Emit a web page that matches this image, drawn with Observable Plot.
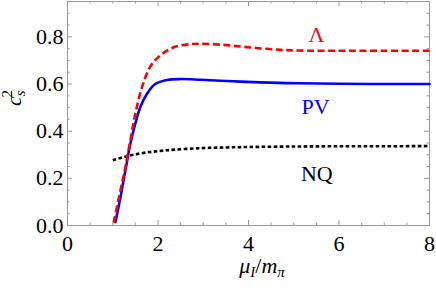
<!DOCTYPE html>
<html>
<head>
<meta charset="utf-8">
<script src="https://cdn.jsdelivr.net/npm/d3@7"></script>
<script src="https://cdn.jsdelivr.net/npm/@observablehq/plot@0.6"></script>
<style>
  html, body { margin: 0; padding: 0; background: #fff; }
  svg text { font-family: "Liberation Serif", "Times New Roman", serif !important; }
</style>
</head>
<body>
<div id="chart"></div>
<script>
// ---- data ----
const lambdaX = [1.02, 1.17, 1.28, 1.39, 1.50, 1.65, 1.83, 2.06, 2.35, 2.72, 2.94, 3.38, 3.82, 4.27, 4.71, 5.1, 6.0, 7.0, 8.0];
const lambdaY = [0.012, 0.149, 0.248, 0.362, 0.475, 0.589, 0.674, 0.723, 0.756, 0.769, 0.771, 0.767, 0.759, 0.751, 0.745, 0.742, 0.741, 0.741, 0.741];

const pvX = [1.06, 1.17, 1.28, 1.39, 1.50, 1.61, 1.76, 1.94, 2.20, 2.50, 2.94, 3.38, 3.82, 4.27, 5.1, 6.0, 7.0, 8.0];
const pvY = [0.015, 0.12, 0.234, 0.348, 0.433, 0.503, 0.560, 0.600, 0.617, 0.621, 0.618, 0.614, 0.610, 0.607, 0.603, 0.601, 0.600, 0.600];

const nqX = [1.0, 1.32, 1.69, 2.2, 2.94, 3.5, 4.0, 5.0, 6.0, 7.0, 8.0];
const nqY = [0.277, 0.294, 0.308, 0.319, 0.328, 0.331, 0.333, 0.335, 0.336, 0.336, 0.337];

const curveLabels = ["Λ", "PV", "NQ"];
const curveLabelX = [5.50, 5.48, 5.51];
const curveLabelY = [0.81, 0.503, 0.22];
const curveColors = ["#ff0000", "#0000ff", "#000000"];

const xMajor = [0, 2, 4, 6, 8];
const xMinor = [0.5, 1, 1.5, 2.5, 3, 3.5, 4.5, 5, 5.5, 6.5, 7, 7.5];
const yMajor = [0, 0.2, 0.4, 0.6, 0.8];
const yMinor = [0.05, 0.1, 0.15, 0.25, 0.3, 0.35, 0.45, 0.5, 0.55, 0.65, 0.7, 0.75, 0.85, 0.9];

// ---- layout ----
const W = 436, H = 290;
const mL = 67, mR = 7, mT = 1, mB = 65;
const pw = W - mL - mR, ph = H - mT - mB;
const major = 5, minor = 2.5;
const frameColor = "#999999";
const font = "Liberation Serif";

const zip = (xs, ys) => xs.map((x, i) => ({x, y: ys[i]}));
const lambda = zip(lambdaX, lambdaY);
const pv = zip(pvX, pvY);
const nq = zip(nqX, nqY);
const labels = curveLabels.map((t, i) => ({t, x: curveLabelX[i], y: curveLabelY[i], c: curveColors[i]}));

const tickOpts = {stroke: frameColor, strokeWidth: 1};

const chart = Plot.plot({
  width: W, height: H,
  marginLeft: mL, marginRight: mR, marginTop: mT, marginBottom: mB,
  style: {fontFamily: font, fontSize: "22px", background: "#fff", color: "#000", overflow: "visible"},
  x: {domain: [0, 8]},
  y: {domain: [0, 0.95]},
  marks: [
    // inward ticks on all four sides
    Plot.tickX(xMajor, {x: d => d, insetTop: ph - major, ...tickOpts}),
    Plot.tickX(xMinor, {x: d => d, insetTop: ph - minor, ...tickOpts}),
    Plot.tickX(xMajor, {x: d => d, insetBottom: ph - major, ...tickOpts}),
    Plot.tickX(xMinor, {x: d => d, insetBottom: ph - minor, ...tickOpts}),
    Plot.tickY(yMajor, {y: d => d, insetRight: pw - major, ...tickOpts}),
    Plot.tickY(yMinor, {y: d => d, insetRight: pw - minor, ...tickOpts}),
    Plot.tickY(yMajor, {y: d => d, insetLeft: pw - major, ...tickOpts}),
    Plot.tickY(yMinor, {y: d => d, insetLeft: pw - minor, ...tickOpts}),
    Plot.frame({stroke: frameColor, strokeWidth: 1}),
    // tick labels
    Plot.axisX(xMajor, {anchor: "bottom", tickSize: 0, tickPadding: 10, label: null, fontSize: 22, fontFamily: font, tickFormat: d3.format("d")}),
    Plot.axisY(yMajor, {anchor: "left", tickSize: 0, tickPadding: 4, label: null, fontSize: 22, fontFamily: font, tickFormat: d3.format(".1f")}),
    // curves
    Plot.line(nq, {x: "x", y: "y", stroke: "#000", strokeWidth: 2.6, strokeDasharray: "3.6,2.4", strokeLinecap: "butt", curve: "catmull-rom"}),
    Plot.line(pv, {x: "x", y: "y", stroke: "#0000ff", strokeWidth: 2.6, curve: "catmull-rom"}),
    Plot.line(lambda, {x: "x", y: "y", stroke: "#ff0000", strokeWidth: 2.6, strokeDasharray: "7,3.5", strokeLinecap: "butt", curve: "catmull-rom"}),
    // curve labels
    Plot.text(labels, {x: "x", y: "y", text: "t", fill: "c", fontSize: 22, fontFamily: font})
  ]
});

const svg = d3.select(chart);
// x axis label: μ_I / m_π
const xl = svg.append("text")
  .attr("x", 262).attr("y", 273)
  .attr("text-anchor", "middle")
  .attr("font-family", font).attr("font-size", 22).attr("fill", "#000");
xl.append("tspan").attr("font-style", "italic").text("μ");
xl.append("tspan").attr("font-style", "italic").attr("font-size", 15).attr("dy", 4).text("I");
xl.append("tspan").attr("dy", -4).text("/");
xl.append("tspan").attr("font-style", "italic").text("m");
xl.append("tspan").attr("font-style", "italic").attr("font-size", 15).attr("dy", 4).text("π");

// y axis label: c_s^2 (rotated)
const yl = svg.append("text")
  .attr("transform", "translate(21,98) rotate(-90)")
  .attr("text-anchor", "middle")
  .attr("font-family", font).attr("font-size", 22).attr("fill", "#000");
yl.append("tspan").attr("font-style", "italic").text("c");
yl.append("tspan").attr("font-style", "italic").attr("font-size", 15).attr("dy", 4).text("s");
yl.append("tspan").attr("font-size", 15).attr("dx", -7).attr("dy", -13).text("2");

document.getElementById("chart").append(chart);
</script>
</body>
</html>
